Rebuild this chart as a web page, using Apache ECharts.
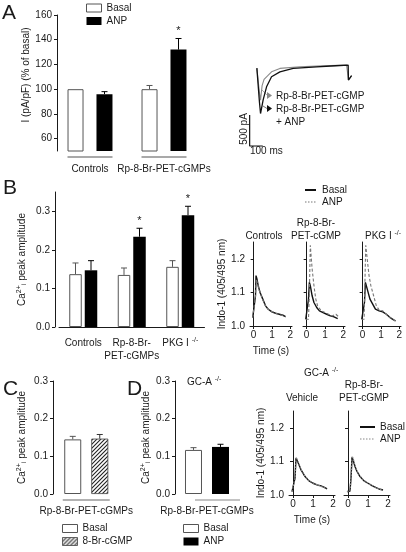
<!DOCTYPE html>
<html><head><meta charset="utf-8">
<script src="https://cdn.jsdelivr.net/npm/echarts@6/dist/echarts.min.js"></script>
<style>html,body{margin:0;padding:0;background:#fff}#c{width:406px;height:552px}</style>
</head><body><div id="c"></div>
<script>
// ---------------- DATA ----------------
// Panel A: bar chart
const A_CATS = ['Controls', 'Rp-8-Br-PET-cGMPs'];
const A_BASAL = [100, 100];
const A_BASAL_ERR = [0, 3];
const A_ANP = [96, 132];
const A_ANP_ERR = [2, 9];
const A_SIG = [0, 1];
const A_TICKS = [60, 80, 100, 120, 140, 160];
// Panel A: current traces [ms, pA]
const A_TRACE_RP = [[0,-48],[8,-60],[20,-450],[28,-563],[40,-330],[55,-230],[74,-188],[112,-108],[176,-53],[328,-27],[500,-12],[685,0],[697,0],[699,-240],[723,-170]];
const A_TRACE_RP_ANP = [[0,-48],[8,-60],[20,-600],[28,-778],[48,-560],[74,-349],[112,-188],[176,-108],[277,-53],[456,-27],[600,-10],[697,0],[699,-240],[723,-170]];
const A_SCALE_BAR = [[-55,-800],[-55,-1300],[45,-1300]]; // 500 pA, 100 ms

// Panel B: bar chart
const B_CATS = ['Controls', 'Rp-8-Br-\nPET-cGMPs', 'PKG I -/-'];
const B_BASAL = [0.137, 0.135, 0.156];
const B_BASAL_ERR = [0.029, 0.018, 0.016];
const B_ANP = [0.147, 0.234, 0.290];
const B_ANP_ERR = [0.025, 0.022, 0.023];
const B_SIG = [0, 1, 1];
const B_TICKS = [0, 0.1, 0.2, 0.3];
// Indo-1 traces [s, ratio]
const T_TICKS_Y = [1.0, 1.1, 1.2];
const T_TICKS_X = [0, 1, 2];
const B_CTRL_BASAL = [[-0.05,1.025],[0.05,1.025],[0.1,1.09],[0.13,1.15],[0.18,1.14],[0.25,1.12],[0.35,1.10],[0.5,1.08],[0.65,1.06],[0.8,1.05],[1.0,1.042],[1.2,1.038],[1.4,1.035],[1.6,1.032],[1.75,1.028]];
const B_CTRL_ANP = [[-0.05,1.025],[0.05,1.025],[0.1,1.09],[0.14,1.14],[0.2,1.13],[0.28,1.11],[0.38,1.095],[0.5,1.078],[0.65,1.06],[0.8,1.05],[1.0,1.043],[1.2,1.038],[1.4,1.034],[1.6,1.031],[1.75,1.027]];
const B_RP_BASAL = [[-0.05,1.02],[0.05,1.02],[0.1,1.08],[0.15,1.13],[0.2,1.12],[0.3,1.09],[0.4,1.07],[0.55,1.055],[0.7,1.045],[0.9,1.04],[1.1,1.035],[1.3,1.03],[1.5,1.027],[1.7,1.022]];
const B_RP_ANP = [[-0.05,1.02],[0.1,1.02],[0.15,1.1],[0.2,1.24],[0.3,1.17],[0.4,1.12],[0.5,1.08],[0.6,1.06],[0.8,1.045],[1.0,1.04],[1.2,1.035],[1.4,1.03],[1.6,1.035],[1.8,1.025]];
const B_PKG_BASAL = [[-0.05,1.02],[0.05,1.02],[0.1,1.07],[0.15,1.13],[0.2,1.12],[0.3,1.10],[0.4,1.08],[0.55,1.065],[0.7,1.05],[0.9,1.045],[1.1,1.042],[1.3,1.035],[1.5,1.025],[1.7,1.018],[1.8,1.015]];
const B_PKG_ANP = [[-0.05,1.02],[0.08,1.02],[0.12,1.12],[0.17,1.24],[0.25,1.2],[0.35,1.15],[0.45,1.12],[0.6,1.09],[0.75,1.06],[0.9,1.048],[1.1,1.045],[1.3,1.035],[1.5,1.025],[1.7,1.018],[1.8,1.015]];

// Panel C
const C_CATS = ['Rp-8-Br-PET-cGMPs'];
const C_BASAL = [0.145];
const C_BASAL_ERR = [0.008];
const C_CGMP = [0.147];
const C_CGMP_ERR = [0.011];
const CD_TICKS = [0, 0.1, 0.2, 0.3];

// Panel D
const D_CATS = ['Rp-8-Br-PET-cGMPs'];
const D_BASAL = [0.117];
const D_BASAL_ERR = [0.006];
const D_ANP = [0.125];
const D_ANP_ERR = [0.007];
const D_VEH_BASAL = [[-0.05,1.01],[0.05,1.015],[0.1,1.05],[0.15,1.11],[0.2,1.105],[0.3,1.09],[0.4,1.075],[0.5,1.065],[0.6,1.055],[0.8,1.042],[1.0,1.035],[1.2,1.03],[1.4,1.027],[1.6,1.022],[1.7,1.018]];
const D_VEH_ANP = [[-0.05,1.01],[0.05,1.015],[0.1,1.05],[0.16,1.112],[0.22,1.105],[0.3,1.09],[0.4,1.076],[0.5,1.066],[0.6,1.056],[0.8,1.043],[1.0,1.036],[1.2,1.03],[1.4,1.026],[1.6,1.021],[1.7,1.018]];
const D_RP_BASAL = [[-0.05,1.01],[0.1,1.012],[0.15,1.05],[0.2,1.112],[0.25,1.105],[0.35,1.085],[0.45,1.07],[0.6,1.055],[0.8,1.042],[1.0,1.035],[1.2,1.028],[1.4,1.022],[1.6,1.017],[1.75,1.015]];
const D_RP_ANP = [[-0.05,1.01],[0.1,1.012],[0.15,1.05],[0.21,1.116],[0.26,1.108],[0.35,1.088],[0.45,1.072],[0.6,1.056],[0.8,1.043],[1.0,1.035],[1.2,1.028],[1.4,1.022],[1.6,1.017],[1.75,1.015]];

// ---------------- STYLE / HELPERS ----------------
const F = '"Liberation Sans", Arial, Helvetica, sans-serif';
const INK = '#1a1a1a';
const FS = 10;

const hatch = (function(){
  const c = document.createElement('canvas'); c.width = 4; c.height = 4;
  const g = c.getContext('2d');
  g.fillStyle = '#fff'; g.fillRect(0,0,4,4);
  g.strokeStyle = '#222'; g.lineWidth = 1.1;
  g.beginPath();
  g.moveTo(0,4); g.lineTo(4,0);
  g.moveTo(-1,1); g.lineTo(1,-1);
  g.moveTo(3,5); g.lineTo(5,3);
  g.stroke();
  return c;
})();

const supRich = {
  sup: {fontSize: 7, fontFamily: F, color: INK, verticalAlign: 'top', lineHeight: 12},
  sub: {fontSize: 7, fontFamily: F, color: INK, verticalAlign: 'bottom', lineHeight: 12},
  n: {fontSize: FS, fontFamily: F, color: INK, lineHeight: 12}
};
const supFmt = v => String(v).replace('-/-', '{sup|-/-}');
const caName = '{n|Ca}{sup|2+}{sub|i}{n| peak amplitude}';

function grid(left, top, width, height) { return {left, top, width, height, containLabel: false}; }

function valY(gi, min, max, ticks, fmt, name, nameGap, offset, namePad) {
  return {
    gridIndex: gi, type: 'value', min, max, offset: offset || 0,
    axisLine: {show: true, lineStyle: {color: INK, width: 1}},
    axisTick: {show: true, length: 3, customValues: ticks, lineStyle: {color: INK}},
    axisLabel: {show: !!fmt, customValues: ticks, formatter: fmt, fontSize: FS, fontFamily: F, color: INK, margin: 5},
    splitLine: {show: false},
    name: name || '', nameLocation: 'middle', nameRotate: 90, nameGap: nameGap || 20,
    nameTextStyle: {fontSize: FS, fontFamily: F, color: INK, rich: supRich, padding: namePad || 0}
  };
}
function catX(gi, cats, showLine, margin) {
  return {
    gridIndex: gi, type: 'category', data: cats,
    axisLine: {show: showLine, lineStyle: {color: INK}},
    axisTick: {show: false},
    axisLabel: {fontSize: FS, fontFamily: F, color: INK, margin: margin, lineHeight: 13, interval: 0, formatter: supFmt, rich: supRich},
    splitLine: {show: false}
  };
}
function timeX(gi, name) {
  return {
    gridIndex: gi, type: 'value', min: -0.2, max: 2.1,
    axisLine: {show: true, lineStyle: {color: INK}},
    axisTick: {show: true, length: 3, customValues: T_TICKS_X, lineStyle: {color: INK}},
    axisLabel: {customValues: T_TICKS_X, fontSize: FS, fontFamily: F, color: INK, margin: 4},
    splitLine: {show: false},
    name: name || '', nameLocation: 'middle', nameGap: 20,
    nameTextStyle: {fontSize: FS, fontFamily: F, color: INK}
  };
}
function bar(gi, name, data, width, gap, style) {
  return {type: 'bar', name, xAxisIndex: gi, yAxisIndex: gi, data, barWidth: width, barGap: gap,
    itemStyle: style, silent: true, z: 2};
}
function errBars(gi, vals, errs, sig, offset, color) {
  return {
    type: 'custom', xAxisIndex: gi, yAxisIndex: gi, silent: true, z: 4,
    data: vals.map((v, i) => [i, v, errs[i], sig ? sig[i] : 0]),
    encode: {x: 0, y: 1},
    renderItem: (p, api) => {
      const i = api.value(0), v = api.value(1), e = api.value(2);
      const base = api.coord([i, v]);
      const top = api.coord([i, v + e]);
      const x = base[0] + offset;
      const ch = [];
      if (e > 0) {
        ch.push({type: 'line', shape: {x1: x, y1: base[1], x2: x, y2: top[1]}, style: {stroke: color, lineWidth: 1}});
        ch.push({type: 'line', shape: {x1: x - 3, y1: top[1], x2: x + 3, y2: top[1]}, style: {stroke: color, lineWidth: 1}});
      }
      if (api.value(3)) {
        ch.push({type: 'text', x: x, y: top[1] - 2, style: {text: '*', fontSize: 11, fontFamily: F, fill: INK, align: 'center', verticalAlign: 'bottom'}});
      }
      return {type: 'group', children: ch};
    }
  };
}
function underline(gi, cats, yVal, l, r, color) {
  return {
    type: 'custom', xAxisIndex: gi, yAxisIndex: gi, silent: true, z: 3,
    data: cats.map((c, i) => [i, yVal]),
    encode: {x: 0, y: 1},
    renderItem: (p, api) => {
      const c = api.coord([api.value(0), api.value(1)]);
      return {type: 'line', shape: {x1: c[0] + l, y1: c[1] + 6, x2: c[0] + r, y2: c[1] + 6}, style: {stroke: color, lineWidth: 1.2}};
    }
  };
}
function trace(gi, data, color, width, type) {
  return {type: 'line', xAxisIndex: gi, yAxisIndex: gi, data, showSymbol: false, symbol: 'none',
    lineStyle: {color, width, type}, silent: true, z: type === 'solid' ? 2 : 3, clip: false, animation: false};
}
function txt(x, y, text, opt) {
  opt = opt || {};
  return {type: 'text', x, y, rotation: opt.rot || 0, silent: true,
    style: {text, fontSize: opt.fs || FS, fontFamily: F, fill: opt.fill || INK,
      align: opt.align || 'left', verticalAlign: opt.va || 'middle', lineHeight: opt.lh || 13,
      rich: supRich}};
}
function seg(x1, y1, x2, y2, color, w, dash) {
  return {type: 'line', silent: true, shape: {x1, y1, x2, y2}, style: {stroke: color, lineWidth: w || 1, lineDash: dash || null}};
}
function legendBox(left, top, items) {
  return {left, top, orient: 'vertical', icon: 'rect', itemWidth: 15, itemHeight: 8, itemGap: 3, padding: 0,
    selectedMode: false, textStyle: {fontSize: FS, fontFamily: F, color: INK}, data: items};
}

const whiteBar = {color: '#fff', borderColor: '#555', borderWidth: 1};
const blackBar = {color: '#000'};
const hatchBar = {color: {image: hatch, repeat: 'repeat'}, borderColor: '#444', borderWidth: 0.8};

// ---------------- OPTION ----------------
const option = {
  animation: false,
  grid: [
    grid(53, 15, 148, 136),      // 0 A bars
    grid(249, 62, 103.5, 84),    // 1 A trace
    grid(59, 192, 145.5, 135),   // 2 B bars
    grid(250, 242, 42, 84),      // 3 B trace controls
    grid(303, 242, 42, 84),      // 4 B trace Rp
    grid(359, 242, 42, 84),      // 5 B trace PKG
    grid(53, 381, 66.5, 113),    // 6 C bars
    grid(175, 381, 64, 113),     // 7 D bars
    grid(289, 411, 46, 84),      // 8 D trace vehicle
    grid(344, 411, 46, 84)       // 9 D trace Rp
  ],
  xAxis: [
    catX(0, A_CATS, false, 12),
    {gridIndex: 1, type: 'value', min: -60, max: 730, show: false},
    catX(2, B_CATS, true, 10),
    timeX(3, 'Time (s)'), timeX(4), timeX(5),
    catX(6, C_CATS, false, 11),
    catX(7, D_CATS, false, 11),
    timeX(8, 'Time (s)'), timeX(9)
  ],
  yAxis: [
    valY(0, 50, 160, A_TICKS, v => String(v), 'I (pA/pF) (% of basal)', 24, -4, [0, 0, 0, 16]),
    {gridIndex: 1, type: 'value', min: -1300, max: 50, show: false},
    valY(2, 0, 0.35, B_TICKS, v => v.toFixed(1), caName, 27, 4),
    valY(3, 1.0, 1.25, T_TICKS_Y, v => v.toFixed(1), 'Indo-1 (405/495 nm)', 19),
    valY(4, 1.0, 1.25, T_TICKS_Y, null),
    valY(5, 1.0, 1.25, T_TICKS_Y, null),
    valY(6, 0, 0.3, CD_TICKS, v => v.toFixed(1), caName, 25),
    valY(7, 0, 0.3, CD_TICKS, v => v.toFixed(1), caName, 23),
    valY(8, 1.0, 1.25, T_TICKS_Y, v => v.toFixed(1), 'Indo-1 (405/495 nm)', 15),
    valY(9, 1.0, 1.25, T_TICKS_Y, null)
  ],
  legend: [
    legendBox(86, 3, [{name: 'Basal', itemStyle: whiteBar}, {name: 'ANP', itemStyle: blackBar}]),
    legendBox(62, 523.5, [{name: 'Basal', itemStyle: whiteBar}, {name: '8-Br-cGMP', itemStyle: hatchBar}]),
    legendBox(183, 523.5, [{name: 'Basal', itemStyle: whiteBar}, {name: 'ANP', itemStyle: blackBar}])
  ],
  series: [
    // A bars
    bar(0, 'Basal', A_BASAL, 16, '81%', whiteBar),
    bar(0, 'ANP', A_ANP, 16, '81%', blackBar),
    errBars(0, A_BASAL, A_BASAL_ERR, null, -14.5, '#555'),
    errBars(0, A_ANP, A_ANP_ERR, A_SIG, 14.5, '#000'),
    underline(0, A_CATS, 50, -22.5, 22.5, '#555'),
    // B bars
    bar(2, 'Basal', B_BASAL, 12.5, '24%', whiteBar),
    bar(2, 'ANP', B_ANP, 12.5, '24%', blackBar),
    errBars(2, B_BASAL, B_BASAL_ERR, null, -7.75, '#555'),
    errBars(2, B_ANP, B_ANP_ERR, B_SIG, 7.75, '#000'),
    // C bars
    bar(6, 'Basal', C_BASAL, 17, '59%', whiteBar),
    bar(6, '8-Br-cGMP', C_CGMP, 17, '59%', hatchBar),
    errBars(6, C_BASAL, C_BASAL_ERR, null, -13.5, '#555'),
    errBars(6, C_CGMP, C_CGMP_ERR, null, 13.5, '#333'),
    underline(6, C_CATS, 0, -23.5, 23.5, '#666'),
    // D bars
    bar(7, 'Basal', D_BASAL, 17, '59%', whiteBar),
    bar(7, 'ANP', D_ANP, 17, '59%', blackBar),
    errBars(7, D_BASAL, D_BASAL_ERR, null, -13.5, '#555'),
    errBars(7, D_ANP, D_ANP_ERR, null, 13.5, '#000'),
    underline(7, D_CATS, 0, -12, 33, '#888'),
    // A traces + scale bar
    trace(1, A_TRACE_RP, '#8a8a8a', 1.1, 'solid'),
    trace(1, A_TRACE_RP_ANP, '#111', 1.3, 'solid'),
    trace(1, A_SCALE_BAR, '#111', 1.2, 'solid'),
    // B traces
    trace(3, B_CTRL_BASAL, '#111', 1.4, 'solid'),
    trace(3, B_CTRL_ANP, '#777', 1.1, [3, 2]),
    trace(4, B_RP_BASAL, '#111', 1.4, 'solid'),
    trace(4, B_RP_ANP, '#777', 1.1, [3, 2]),
    trace(5, B_PKG_BASAL, '#111', 1.4, 'solid'),
    trace(5, B_PKG_ANP, '#777', 1.1, [3, 2]),
    // D traces
    trace(8, D_VEH_BASAL, '#111', 1.4, 'solid'),
    trace(8, D_VEH_ANP, '#888', 1.2, [1.5, 1.5]),
    trace(9, D_RP_BASAL, '#111', 1.4, 'solid'),
    trace(9, D_RP_ANP, '#888', 1.2, [1.5, 1.5])
  ],
  graphic: [
    txt(2, 13, 'A', {fs: 21}),
    txt(3, 188, 'B', {fs: 21}),
    txt(3, 389, 'C', {fs: 21}),
    txt(127, 389, 'D', {fs: 21}),
    // A trace annotations
    seg(262, 90, 267, 95, '#999', 0.8),
    {type: 'polygon', silent: true, shape: {points: [[267,92],[272,95.5],[267,99]]}, style: {fill: '#888'}},
    txt(276, 96, 'Rp-8-Br-PET-cGMP'),
    seg(263, 106, 267, 108.5, '#555', 0.8),
    {type: 'polygon', silent: true, shape: {points: [[267,105],[272,108.5],[267,112]]}, style: {fill: '#111'}},
    txt(276, 109, 'Rp-8-Br-PET-cGMP'),
    txt(276, 122, '+ ANP'),
    txt(244, 129, '500 pA', {rot: Math.PI / 2, align: 'center'}),
    txt(250, 151, '100 ms'),
    // B trace legend & titles
    seg(305, 190, 316, 190, '#111', 2),
    txt(322, 190, 'Basal'),
    seg(305, 202, 316, 202, '#777', 1.2, [1.5, 1.5]),
    txt(322, 202, 'ANP'),
    txt(264, 236, 'Controls', {align: 'center'}),
    txt(316, 229.5, 'Rp-8-Br-\nPET-cGMP', {align: 'center'}),
    txt(365, 236, 'PKG I {sup|-/-}'),
    // D texts
    txt(187, 382, 'GC-A {sup|-/-}'),
    txt(304, 373, 'GC-A {sup|-/-}'),
    txt(302, 398, 'Vehicle', {align: 'center'}),
    txt(364, 392, 'Rp-8-Br-\nPET-cGMP', {align: 'center'}),
    seg(360, 427, 375, 427, '#111', 2),
    txt(380, 427, 'Basal'),
    seg(360, 439, 375, 439, '#888', 1.2, [1.5, 1.5]),
    txt(380, 439, 'ANP')
  ]
};

const chart = echarts.init(document.getElementById('c'), null, {renderer: 'canvas'});
chart.setOption(option);
</script>
</body></html>
